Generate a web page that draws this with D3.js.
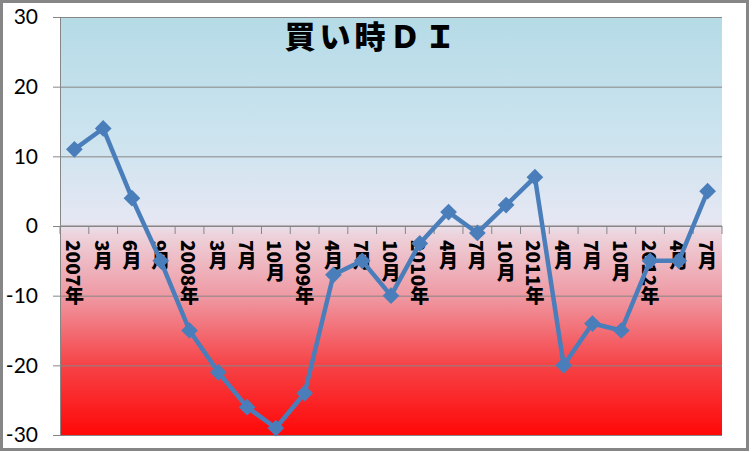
<!DOCTYPE html>
<html>
<head>
<meta charset="utf-8">
<script src="https://cdn.jsdelivr.net/npm/d3@7"></script>
<style>
  body { margin: 0; background: #fff; }
  svg { display: block; }
</style>
</head>
<body>
<script>
// data
var categories = ["2007年", "3月", "6月", "9月", "2008年", "3月", "7月", "10月",
                  "2009年", "4月", "7月", "10月", "2010年", "4月", "7月", "10月",
                  "2011年", "4月", "7月", "10月", "2012年", "4月", "7月"];
var values = [11, 14, 4, -5, -15, -21, -26, -29, -24, -7, -5, -10,
              -2.5, 2, -1, 3, 7, -20, -14, -15, -5, -5, 5];
var yTicks = [-30, -20, -10, 0, 10, 20, 30];
var title = "買い時ＤＩ";

var W = 752, H = 452;
var margin = {top: 17, right: 30, bottom: 17, left: 60},
    width = 722 - margin.left,
    height = 435 - margin.top;

var svg = d3.select("body").append("svg")
    .attr("width", W)
    .attr("height", H);

// background gradient: light blue on top, red at the bottom
var defs = svg.append("defs");
var grad = defs.append("linearGradient")
    .attr("id", "bg")
    .attr("x1", 0).attr("y1", 0).attr("x2", 0).attr("y2", 1);
[[0, "#b5dbe7"], [0.3, "#cde4ef"], [0.49, "#e5e7f3"], [0.52, "#edd3dc"],
 [0.67, "#ef98a2"], [0.83, "#f64448"], [1, "#ff0808"]].forEach(function(s) {
  grad.append("stop").attr("offset", s[0]).attr("stop-color", s[1]);
});

var g = svg.append("g")
    .attr("transform", "translate(" + margin.left + "," + margin.top + ")");

var x = d3.scaleBand().domain(d3.range(categories.length)).range([0, width]);
var y = d3.scaleLinear().domain([-30, 30]).range([height, 0]);

g.append("rect")
    .attr("width", width)
    .attr("height", height)
    .attr("fill", "url(#bg)");

// horizontal gridlines + y axis
var yAxis = d3.axisLeft(y).tickValues(yTicks).tickSize(-width).tickFormat("");
g.append("g").attr("class", "grid").call(yAxis)
  .call(function(s) {
    s.select(".domain").remove();
    s.selectAll("line").attr("stroke", "#868686").attr("stroke-width", 1);
  });

g.append("g")
    .call(d3.axisLeft(y).tickValues(yTicks).tickSize(7).tickPadding(15)
      .tickFormat(function(d) { return String(d); }))
  .call(function(s) {
    s.select(".domain").attr("stroke", "#868686");
    s.selectAll("line").attr("stroke", "#868686");
    s.selectAll("text")
      .attr("font-family", "Lato, 'Open Sans', sans-serif")
      .attr("font-size", "21px")
      .attr("fill", "#000");
  });

// category axis at zero
var xAxisG = g.append("g").attr("transform", "translate(0," + y(0) + ")");
xAxisG.append("line")
    .attr("x1", 0).attr("x2", width)
    .attr("stroke", "#868686");
xAxisG.selectAll(".tick")
    .data(d3.range(categories.length + 1))
  .enter().append("line")
    .attr("x1", function(i) { return i * x.step(); })
    .attr("x2", function(i) { return i * x.step(); })
    .attr("y1", 0).attr("y2", 8)
    .attr("stroke", "#868686");
xAxisG.selectAll(".lbl")
    .data(categories)
  .enter().append("text")
    .attr("writing-mode", "vertical-rl")
    .attr("x", function(d, i) { return x(i) + x.bandwidth() / 2; })
    .attr("y", 14)
    .attr("font-family", "'Noto Sans CJK JP', sans-serif")
    .attr("font-weight", 900)
    .attr("font-size", "19px")
    .attr("fill", "#000")
    .text(function(d) { return d; });

// data line
var line = d3.line()
    .x(function(d, i) { return x(i) + x.bandwidth() / 2; })
    .y(function(d) { return y(d); });

g.append("path")
    .datum(values)
    .attr("d", line)
    .attr("fill", "none")
    .attr("stroke", "#4a7ebb")
    .attr("stroke-width", 4.5)
    .attr("stroke-linejoin", "round");

g.selectAll(".marker")
    .data(values)
  .enter().append("path")
    .attr("d", d3.symbol().type(d3.symbolSquare).size(140))
    .attr("transform", function(d, i) {
      return "translate(" + (x(i) + x.bandwidth() / 2) + "," + y(d) + ") rotate(45)";
    })
    .attr("fill", "#4a7ebb");

// title
svg.append("text")
    .attr("x", 372)
    .attr("y", 48)
    .attr("text-anchor", "middle")
    .attr("font-family", "'Noto Sans CJK JP', sans-serif")
    .attr("font-weight", 900)
    .attr("font-size", "31px")
    .attr("letter-spacing", "4px")
    .attr("fill", "#000")
    .text(title);

// outer frame
svg.append("rect")
    .attr("x", 1.5).attr("y", 1.5)
    .attr("width", 746).attr("height", 448)
    .attr("fill", "none")
    .attr("stroke", "#868686")
    .attr("stroke-width", 3);
</script>
</body>
</html>
